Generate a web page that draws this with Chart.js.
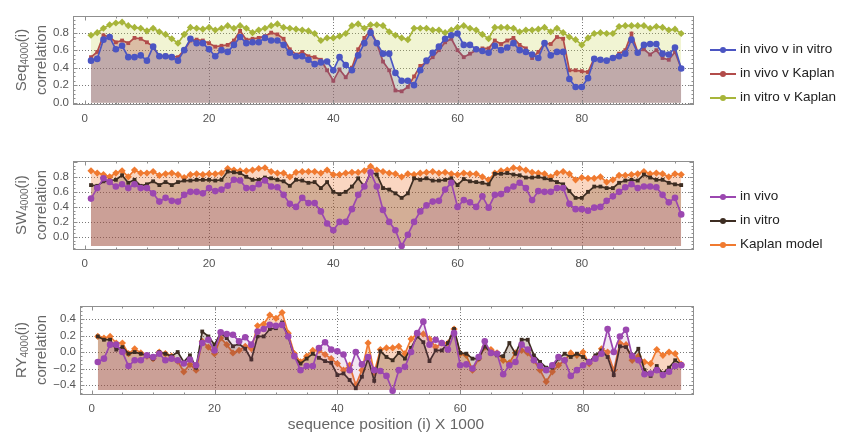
<!DOCTYPE html>
<html>
<head>
<meta charset="utf-8">
<script src="https://cdn.jsdelivr.net/npm/chart.js@4.4.1/dist/chart.umd.min.js"></script>
<style>
    body { margin:0; width:842px; height:432px; background:#fff; position:relative; overflow:hidden;
           font-family:"Liberation Sans", Arial, sans-serif; }
    canvas { position:absolute; left:0; }
    canvas.ov { pointer-events:none; }
    .ytitle { position:absolute; width:140px; height:18px; line-height:18px; text-align:center;
              transform:rotate(-90deg); font-size:15px; color:#666; white-space:nowrap; }
    .ytitle sub { font-size:10px; line-height:0; vertical-align:-2px; }
    .xtitle { position:absolute; left:236px; width:300px; top:415px; text-align:center; font-size:15.5px; color:#666; }
    .leg { position:absolute; left:708px; font-size:13.5px; color:#222; height:18px; line-height:18px; white-space:nowrap; }
    .leg .sw { position:absolute; left:2px; top:9px; width:26px; height:1.6px; background:var(--c); }
    .leg .sw::after { content:''; position:absolute; left:10px; top:-2.5px; width:6px; height:6px;
                      border-radius:50%; background:var(--c); }
    .leg span.t { position:absolute; left:32px; }
</style>
</head>
<body>

<canvas id="c1" width="700" height="126" style="top:0"></canvas>
<canvas id="c2" width="700" height="126" style="top:145px"></canvas>
<canvas id="c3" width="700" height="126" style="top:290px"></canvas>
<canvas id="c1-ov" class="ov" width="700" height="126" style="top:0"></canvas>
<canvas id="c2-ov" class="ov" width="700" height="126" style="top:145px"></canvas>
<canvas id="c3-ov" class="ov" width="700" height="126" style="top:290px"></canvas>

<div class="ytitle" style="left:-49px; top:51px">Seq<sub>4000</sub>(i)</div>
<div class="ytitle" style="left:-29px; top:51px">correlation</div>
<div class="ytitle" style="left:-49px; top:196px">SW<sub>4000</sub>(i)</div>
<div class="ytitle" style="left:-29px; top:196px">correlation</div>
<div class="ytitle" style="left:-49px; top:341px">RY<sub>4000</sub>(i)</div>
<div class="ytitle" style="left:-29px; top:341px">correlation</div>
<div class="xtitle">sequence position (i) X 1000</div>

<div class="leg" style="top:40px"><i class="sw" style="--c:#4b55c2"></i><span class="t">in vivo v in vitro</span></div>
<div class="leg" style="top:64px"><i class="sw" style="--c:#b24c4a"></i><span class="t">in vivo v Kaplan</span></div>
<div class="leg" style="top:88px"><i class="sw" style="--c:#a7b53a"></i><span class="t">in vitro v Kaplan</span></div>
<div class="leg" style="top:187px"><i class="sw" style="--c:#9b47b0"></i><span class="t">in vivo</span></div>
<div class="leg" style="top:211px"><i class="sw" style="--c:#3d2d22"></i><span class="t">in vitro</span></div>
<div class="leg" style="top:235px"><i class="sw" style="--c:#f07a30"></i><span class="t">Kaplan model</span></div>

<script>
// ------------------------------------------------------------
//  Data
// ------------------------------------------------------------
const positions = Array.from({ length: 96 }, (_, i) => i + 1)
const xTicks = [0, 20, 40, 60, 80]

// Seq4000 panel
const seqVivoVitro = [
    0.48,0.50,0.72,0.75,0.61,0.65,0.52,0.52,0.54,0.48,0.64,0.53,0.53,0.52,0.48,0.60,0.73,0.68,0.68,0.61,
    0.53,0.60,0.58,0.66,0.75,0.68,0.69,0.69,0.74,0.71,0.71,0.66,0.57,0.53,0.53,0.49,0.44,0.46,0.47,0.37,
    0.52,0.43,0.37,0.54,0.68,0.80,0.68,0.56,0.56,0.34,0.25,0.25,0.20,0.37,0.48,0.57,0.64,0.73,0.77,0.79,
    0.66,0.66,0.61,0.59,0.57,0.65,0.60,0.63,0.68,0.60,0.58,0.55,0.51,0.68,0.54,0.58,0.58,0.27,0.18,0.18,
    0.28,0.50,0.49,0.48,0.51,0.53,0.56,0.72,0.57,0.66,0.67,0.67,0.56,0.55,0.63,0.39]
const seqVivoKaplan = [
    0.52,0.58,0.77,0.75,0.69,0.71,0.68,0.74,0.73,0.69,0.64,0.53,0.54,0.53,0.52,0.60,0.71,0.72,0.71,0.68,
    0.64,0.65,0.66,0.71,0.82,0.72,0.73,0.74,0.76,0.80,0.78,0.73,0.61,0.55,0.58,0.53,0.52,0.49,0.37,0.25,
    0.38,0.29,0.40,0.61,0.74,0.83,0.68,0.47,0.37,0.14,0.13,0.18,0.30,0.42,0.46,0.52,0.60,0.69,0.73,0.60,
    0.52,0.56,0.60,0.62,0.62,0.71,0.67,0.71,0.74,0.66,0.62,0.51,0.58,0.68,0.67,0.75,0.73,0.37,0.37,0.36,
    0.35,0.51,0.49,0.48,0.51,0.56,0.60,0.79,0.58,0.61,0.55,0.60,0.51,0.49,0.58,0.39]
const seqVitroKaplan = [
    0.77,0.80,0.85,0.89,0.91,0.92,0.88,0.86,0.85,0.82,0.85,0.81,0.78,0.73,0.68,0.78,0.86,0.85,0.84,0.86,
    0.83,0.85,0.88,0.85,0.88,0.85,0.80,0.83,0.85,0.88,0.90,0.86,0.85,0.84,0.83,0.82,0.79,0.71,0.74,0.74,
    0.76,0.79,0.88,0.90,0.85,0.89,0.89,0.88,0.81,0.77,0.74,0.72,0.85,0.85,0.85,0.83,0.83,0.80,0.83,0.86,
    0.88,0.85,0.83,0.78,0.73,0.86,0.86,0.86,0.85,0.81,0.83,0.83,0.84,0.86,0.81,0.85,0.80,0.75,0.72,0.66,
    0.74,0.79,0.80,0.79,0.79,0.87,0.88,0.88,0.88,0.88,0.85,0.87,0.86,0.83,0.84,0.79]

// SW4000 panel
const swVivo = [
    0.51,0.65,0.78,0.73,0.67,0.70,0.65,0.70,0.65,0.65,0.58,0.47,0.52,0.48,0.47,0.56,0.60,0.60,0.58,0.65,
    0.61,0.63,0.68,0.76,0.75,0.65,0.65,0.70,0.75,0.67,0.66,0.56,0.44,0.40,0.52,0.45,0.45,0.34,0.18,0.09,
    0.20,0.20,0.37,0.56,0.67,0.86,0.67,0.36,0.20,0.09,-0.12,0.03,0.20,0.34,0.42,0.47,0.48,0.63,0.72,0.40,
    0.49,0.46,0.40,0.54,0.39,0.56,0.57,0.63,0.67,0.72,0.65,0.49,0.61,0.60,0.60,0.65,0.65,0.44,0.37,0.37,
    0.35,0.39,0.40,0.48,0.54,0.60,0.66,0.70,0.65,0.67,0.67,0.66,0.56,0.46,0.52,0.30]
const swVitro = [
    0.69,0.68,0.74,0.75,0.76,0.82,0.72,0.76,0.68,0.70,0.74,0.69,0.73,0.69,0.73,0.75,0.75,0.76,0.76,0.76,
    0.75,0.76,0.87,0.86,0.85,0.80,0.76,0.76,0.79,0.78,0.76,0.74,0.68,0.76,0.75,0.72,0.73,0.65,0.73,0.60,
    0.57,0.60,0.67,0.78,0.67,0.86,0.83,0.65,0.63,0.58,0.52,0.58,0.78,0.76,0.78,0.75,0.75,0.76,0.78,0.69,
    0.77,0.74,0.73,0.72,0.70,0.84,0.84,0.85,0.83,0.82,0.79,0.79,0.80,0.78,0.76,0.73,0.70,0.61,0.52,0.52,
    0.60,0.67,0.67,0.65,0.65,0.72,0.75,0.76,0.75,0.83,0.79,0.76,0.76,0.72,0.70,0.69]
const swKaplan = [
    0.88,0.85,0.83,0.80,0.85,0.88,0.80,0.89,0.85,0.85,0.87,0.82,0.84,0.85,0.83,0.79,0.83,0.84,0.83,0.84,
    0.84,0.85,0.91,0.89,0.88,0.88,0.89,0.91,0.92,0.87,0.85,0.85,0.80,0.86,0.87,0.87,0.87,0.85,0.89,0.83,
    0.83,0.85,0.86,0.86,0.88,0.94,0.89,0.87,0.85,0.84,0.80,0.84,0.83,0.85,0.86,0.87,0.85,0.86,0.84,0.83,
    0.85,0.84,0.84,0.80,0.76,0.85,0.88,0.89,0.92,0.91,0.89,0.86,0.85,0.84,0.80,0.85,0.87,0.84,0.76,0.79,
    0.78,0.78,0.80,0.73,0.76,0.82,0.82,0.83,0.84,0.87,0.84,0.85,0.84,0.80,0.84,0.83]

// RY4000 panel
const ryVivo = [
    -0.12,-0.08,0.09,0.09,0.00,-0.17,-0.10,-0.10,-0.04,-0.06,-0.02,-0.10,-0.08,-0.10,-0.14,-0.09,-0.16,0.11,0.15,0.02,
    0.24,0.22,0.21,0.13,0.18,0.09,0.25,0.28,0.33,0.32,0.33,0.19,-0.05,-0.22,-0.17,-0.17,0.05,0.12,0.03,0.01,
    -0.03,-0.22,0.00,-0.15,-0.06,-0.22,-0.23,-0.29,-0.47,-0.22,-0.18,0.00,0.23,0.37,0.09,0.15,0.11,0.03,0.23,-0.16,
    -0.15,-0.20,-0.06,0.13,-0.01,-0.02,-0.27,-0.16,-0.12,0.09,0.03,-0.10,-0.17,-0.22,-0.16,-0.06,-0.10,-0.29,-0.22,-0.16,
    -0.12,-0.08,-0.02,0.28,0.00,0.19,0.27,-0.05,-0.10,-0.27,-0.26,-0.22,-0.28,-0.24,-0.17,-0.16]
const ryVitro = [
    0.19,0.15,0.15,0.03,0.06,-0.02,0.00,-0.02,-0.04,-0.08,0.00,-0.02,-0.05,0.00,-0.12,-0.04,-0.19,0.25,0.19,0.09,
    0.23,0.17,0.07,0.10,0.04,-0.09,0.19,0.19,0.28,0.29,0.36,0.19,-0.06,-0.14,-0.08,-0.02,-0.07,-0.11,-0.13,-0.28,
    -0.26,-0.34,-0.44,-0.30,-0.08,-0.35,0.01,-0.06,-0.10,-0.01,-0.08,0.05,0.19,0.12,-0.11,0.02,0.02,0.11,0.28,-0.01,
    -0.02,-0.08,-0.08,0.07,-0.01,-0.04,-0.05,0.11,-0.02,0.15,0.15,-0.04,-0.12,-0.19,-0.19,-0.08,-0.02,-0.06,-0.02,-0.06,
    -0.12,-0.04,0.02,-0.06,-0.28,0.07,0.06,-0.06,0.04,-0.22,-0.29,-0.17,-0.26,-0.19,-0.10,-0.15]
const ryKaplan = [
    0.19,0.17,0.19,0.11,0.11,-0.02,0.04,-0.01,-0.05,-0.08,0.00,-0.02,-0.05,-0.11,-0.24,-0.15,-0.22,0.13,0.06,-0.02,
    0.17,0.09,-0.01,0.02,0.07,0.04,0.32,0.34,0.45,0.41,0.48,0.23,-0.02,-0.12,-0.05,0.02,0.02,-0.03,-0.08,-0.14,
    -0.22,-0.16,-0.40,-0.22,0.11,-0.25,0.03,0.05,0.05,0.07,-0.02,0.16,0.22,0.22,0.16,0.06,0.11,0.11,0.28,-0.02,
    -0.04,-0.22,-0.08,0.06,0.03,-0.01,-0.10,-0.13,-0.01,0.02,-0.01,-0.10,-0.22,-0.36,-0.24,-0.16,-0.10,-0.01,-0.04,0.00,
    -0.14,-0.06,0.04,0.00,-0.22,0.11,0.09,-0.10,-0.05,-0.12,-0.14,0.03,-0.04,0.00,-0.02,-0.15]

// ------------------------------------------------------------
//  Dotted grid behind the data (Mathematica look)
// ------------------------------------------------------------
const gridPlugin = {
    id: 'dotgrid',
    beforeDatasetsDraw(chart, args, opts) {
        const { ctx, chartArea: a, scales: { x, y } } = chart
        ctx.save()
        ctx.strokeStyle = '#7a7a7a'
        ctx.lineWidth = 1
        ctx.setLineDash([1, 2])
        ctx.beginPath()
        xTicks.slice(1).forEach(v => {
            const px = Math.round(x.getPixelForValue(v)) + 0.5
            ctx.moveTo(px, a.top); ctx.lineTo(px, a.bottom)
        })
        opts.yTicks.forEach(v => {
            const py = Math.round(y.getPixelForValue(v)) + 0.5
            ctx.moveTo(a.left, py); ctx.lineTo(a.right, py)
        })
        ctx.stroke()
        ctx.restore()
    },
}

// ------------------------------------------------------------
//  Frame with inward ticks, drawn on an overlay from the chart's scales
// ------------------------------------------------------------
function drawFrame(chart, overlayId) {
    const ctx = document.getElementById(overlayId).getContext('2d')
    const { chartArea: a, scales: { x, y } } = chart
    const l = Math.round(a.left) + 0.5, r = Math.round(a.right) + 0.5
    const t = Math.round(a.top) + 0.5,  b = Math.round(a.bottom) + 0.5
    ctx.strokeStyle = '#8f8f8f'
    ctx.lineWidth = 1
    ctx.strokeRect(l, t, r - l, b - t)
    ctx.beginPath()
    for (let k = 0; k <= 19; k++) {
        const px = Math.round(x.getPixelForValue(k * 5)) + 0.5
        const len = k % 4 === 0 ? 4 : 2
        ctx.moveTo(px, b); ctx.lineTo(px, b - len)
        ctx.moveTo(px, t); ctx.lineTo(px, t + len)
    }
    for (let k = Math.ceil(y.min / 0.05); k <= Math.floor(y.max / 0.05); k++) {
        const py = Math.round(y.getPixelForValue(k * 0.05)) + 0.5
        const len = k % 4 === 0 ? 4 : 2
        ctx.moveTo(l, py); ctx.lineTo(l + len, py)
        ctx.moveTo(r, py); ctx.lineTo(r - len, py)
    }
    ctx.stroke()
}

// ------------------------------------------------------------
//  Helpers
// ------------------------------------------------------------
const FONT = '"Liberation Sans", Arial, sans-serif'

function series(values, color, fill, pointStyle, radius, base) {
    return {
        data:            values.map((v, i) => ({ x: positions[i], y: v })),
        borderColor:     color,
        backgroundColor: fill,
        pointBackgroundColor: color,
        pointBorderColor: color,
        pointBorderWidth: 0,
        pointStyle:      pointStyle,
        pointRadius:     radius,
        borderWidth:     1.7,
        tension:         0,
        fill:            { value: base },
    }
}

function fmt(v) {
    const s = Math.abs(v).toFixed(1)
    return v < -1e-9 ? '\u2212' + s : s
}

function makePanel(id, datasets, yMin, yMax, yTicks, padLeft, padTop) {
    const chart = new Chart(document.getElementById(id), {
        type: 'line',
        data: { datasets },
        plugins: [gridPlugin],
        options: {
            responsive: false,
            animation:  false,
            devicePixelRatio: 1,
            layout: { padding: { left: padLeft, top: padTop, right: 7, bottom: 0 } },
            plugins: {
                legend:  { display: false },
                tooltip: { enabled: false },
                dotgrid: { yTicks },
            },
            scales: {
                x: {
                    type: 'linear', min: -1.9, max: 97.9,
                    grid:   { display: false, drawTicks: false },
                    border: { display: false },
                    afterBuildTicks: s => { s.ticks = xTicks.map(v => ({ value: v })) },
                    afterFit: s => { s.height = 126 - padTop - 88 },
                    ticks: { color: '#555', font: { family: FONT, size: 11.5 }, padding: 8,
                             maxRotation: 0, autoSkip: false, callback: v => String(v) },
                },
                y: {
                    type: 'linear', min: yMin, max: yMax,
                    grid:   { display: false, drawTicks: false },
                    border: { display: false },
                    afterBuildTicks: s => { s.ticks = yTicks.map(v => ({ value: v })) },
                    afterFit: s => { s.width = 30 },
                    ticks: { color: '#555', font: { family: FONT, size: 11.5 }, padding: 4,
                             autoSkip: false, callback: v => fmt(v) },
                },
            },
        },
    })
    drawFrame(chart, id + '-ov')
    return chart
}

// ------------------------------------------------------------
//  Panels
// ------------------------------------------------------------
makePanel('c1', [
    series(seqVivoVitro,   '#4b55c2', 'rgba(80,90,190,0.20)',  'circle',  3.3, 0),
    series(seqVivoKaplan,  '#b24c4a', 'rgba(170,60,60,0.30)',  'rect',    2.7, 0),
    series(seqVitroKaplan, '#a7b53a', 'rgba(200,210,80,0.25)', 'rectRot', 3.6, 0),
], -0.015, 0.99, [0, 0.2, 0.4, 0.6, 0.8], 43, 16)

makePanel('c2', [
    series(swVivo,   '#9b47b0', 'rgba(150,60,160,0.12)', 'circle',  3.3, -0.12),
    series(swVitro,  '#3d2d22', 'rgba(90,50,20,0.25)',   'rect',    2.7, -0.12),
    series(swKaplan, '#f07a30', 'rgba(240,120,50,0.30)', 'rectRot', 3.6, -0.12),
], -0.16, 1.01, [0, 0.2, 0.4, 0.6, 0.8], 43, 16)

makePanel('c3', [
    series(ryVivo,   '#9b47b0', 'rgba(150,60,160,0.12)', 'circle',  3.3, -0.46),
    series(ryVitro,  '#3d2d22', 'rgba(90,50,20,0.25)',   'rect',    2.7, -0.46),
    series(ryKaplan, '#f07a30', 'rgba(240,120,50,0.30)', 'rectRot', 3.6, -0.46),
], -0.51, 0.56, [-0.4, -0.2, 0, 0.2, 0.4], 50, 16)
</script>
</body>
</html>
